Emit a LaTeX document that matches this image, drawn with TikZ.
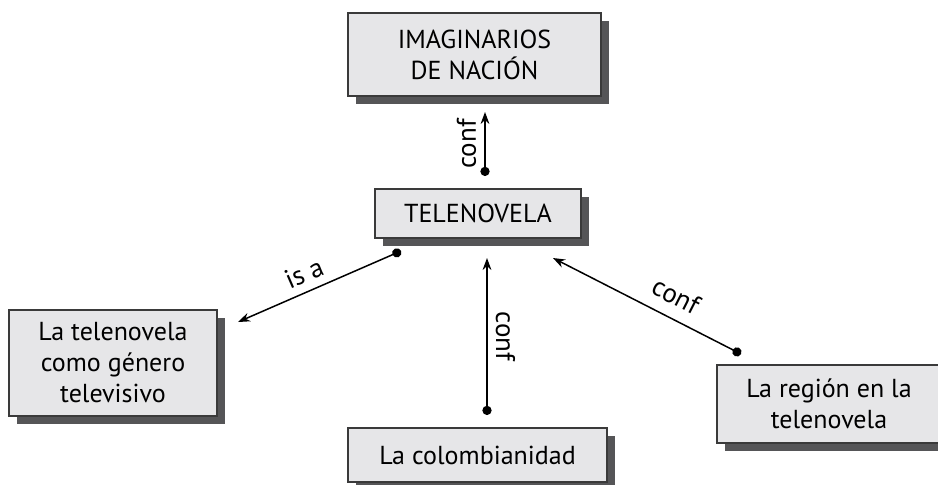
\documentclass[tikz,border=0pt]{standalone}
\usepackage{fontspec}
\setmainfont{PT Sans}
\usetikzlibrary{arrows.meta,shadows}
\definecolor{boxfill}{HTML}{E6E6E8}
\definecolor{boxshade}{HTML}{555557}
\definecolor{boxline}{HTML}{3A3A3A}
\tikzset{
  concept/.style={draw=boxline, line width=0.6pt, fill=boxfill, align=center,
    font=\fontsize{13}{15.5}\selectfont, inner sep=0pt,
    drop shadow={shadow xshift=3.8pt, shadow yshift=-3.8pt, fill=boxshade, opacity=1}},
  link/.style={line width=0.75pt, {Circle[length=4.6pt]}-{Stealth[length=6pt,width=4.4pt]}},
  linklabel/.style={font=\fontsize{13.5}{15}\selectfont, inner sep=4pt}
}
\begin{document}
\begin{tikzpicture}[x=0.5pt,y=-0.5pt]
	\useasboundingbox (0,0) rectangle (938,484);
	% concepts
	\node [concept, minimum width=126.5pt, minimum height=41.5pt] (imag) at (474.5,54.5) {IMAGINARIOS\\DE NACIÓN};
	\node [concept, minimum width=103pt, minimum height=24.5pt] (tele) at (478,213.5) {TELENOVELA};
	\node [concept, minimum width=104pt, minimum height=53pt] (genero) at (113,363) {La telenovela\\como género\\televisivo};
	\node [concept, minimum width=129.5pt, minimum height=27pt] (colomb) at (477.5,455) {La colombianidad};
	\node [concept, minimum width=112pt, minimum height=39pt] (region) at (829,404) {La región en la\\telenovela};
	% connector ends
	\coordinate (imagIn) at (485,112);
	\coordinate (teleOut) at (485,176);
	\coordinate (teleIsa) at (401,251);
	\coordinate (generoIn) at (238,322);
	\coordinate (teleIn) at (487,258);
	\coordinate (colombOut) at (487,415);
	\coordinate (teleInR) at (553,258);
	\coordinate (regionOut) at (741,354);
	% links
	\draw [link] (teleOut) -- (imagIn) node [midway, sloped, above, linklabel] {conf};
	\draw [link] (teleIsa) -- (generoIn) node [pos=0.55, sloped, above, linklabel] {is a};
	\draw [link] (colombOut) -- (teleIn) node [midway, rotate=-90, anchor=south, linklabel] {conf};
	\draw [link] (regionOut) -- (teleInR) node [pos=0.4, sloped, above, linklabel, inner sep=6pt] {conf};
\end{tikzpicture}
\end{document}
